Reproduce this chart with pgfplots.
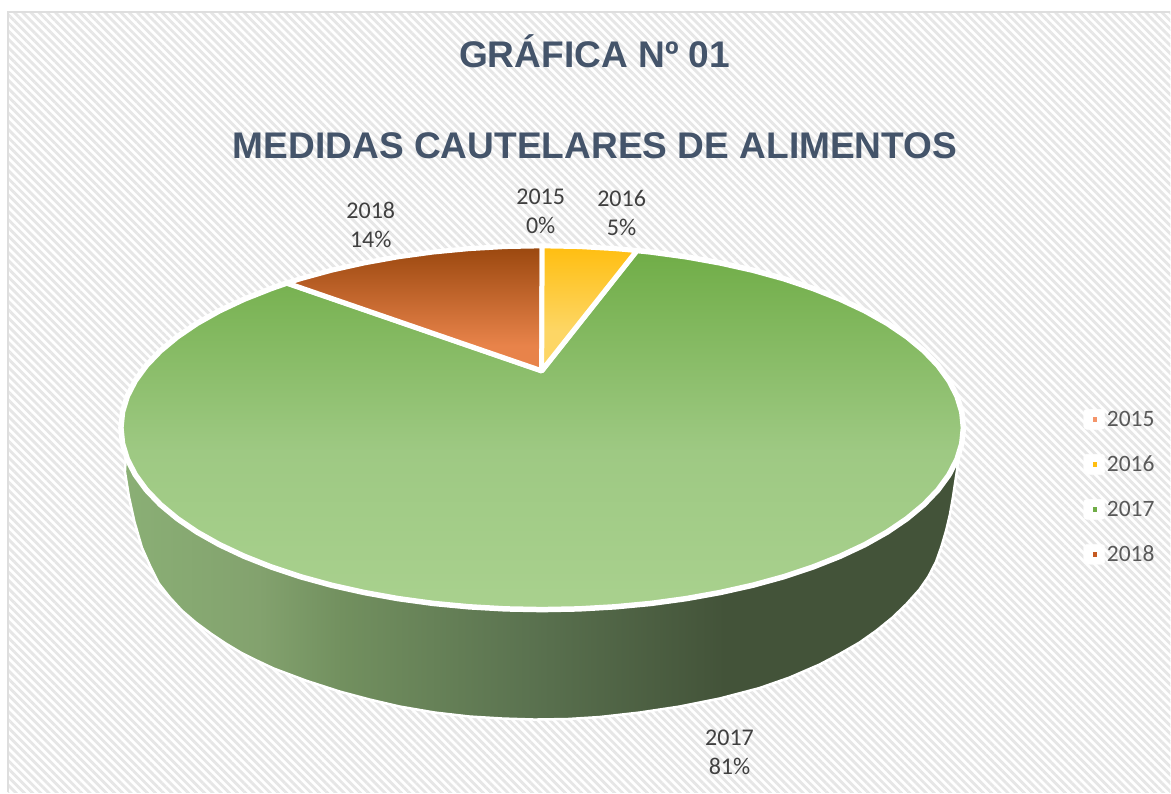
\documentclass[border=0pt]{standalone}
\usepackage{fontspec}
\setmainfont{Liberation Sans}
\newfontfamily\calibri{Carlito}
\usepackage{pgfplots}
\pgfplotsset{compat=1.18}
\usetikzlibrary{patterns.meta}
\definecolor{titleblue}{HTML}{44546A}
\definecolor{labelgrey}{HTML}{404040}
\definecolor{legendgrey}{HTML}{595959}
\definecolor{hatch}{HTML}{E6E6E6}
\definecolor{frameline}{HTML}{DEDEDE}
\definecolor{mark2015}{HTML}{F4956A}
\definecolor{mark2018}{HTML}{C55A22}
\definecolor{green2017top}{HTML}{70AD47}
\definecolor{green2017mid}{HTML}{9EC983}
\definecolor{green2017bot}{HTML}{A9D18E}
\definecolor{orange2018top}{HTML}{9A470E}
\definecolor{orange2018bot}{HTML}{E8834A}
\definecolor{yellow2016top}{HTML}{FFBE10}
\definecolor{yellow2016bot}{HTML}{FDD665}
% side of the pie: light on the left, dark from x=730 on
\definecolor{sideA}{HTML}{8AAF75}
\definecolor{sideB}{HTML}{83A26E}
\definecolor{sideC}{HTML}{72905F}
\definecolor{sideD}{HTML}{5B7350}
\definecolor{sideE}{HTML}{435339}
\pgfdeclarehorizontalshading{pieside}{100bp}{
  color(0bp)=(sideA); color(25bp)=(sideA); color(33bp)=(sideB); color(38bp)=(sideC);
  color(49bp)=(sideD); color(61bp)=(sideE); color(75bp)=(sideE); color(100bp)=(sideE)}
% the box is bottom to top: 25bp is the lowest point of a slice, 75bp the highest
\pgfdeclareverticalshading{slice2017}{100bp}{
  color(0bp)=(green2017bot); color(25bp)=(green2017bot); color(47bp)=(green2017mid);
  color(75bp)=(green2017top); color(100bp)=(green2017top)}
\pgfdeclareverticalshading{slice2018}{100bp}{
  color(0bp)=(orange2018bot); color(35bp)=(orange2018bot);
  color(75bp)=(orange2018top); color(100bp)=(orange2018top)}
\pgfdeclareverticalshading{slice2016}{100bp}{
  color(0bp)=(yellow2016bot); color(41bp)=(yellow2016bot);
  color(75bp)=(yellow2016top); color(100bp)=(yellow2016top)}
\begin{document}
\begin{tikzpicture}
\begin{axis}[
    scale only axis,
    width=1171pt, height=793pt,
    xmin=0, xmax=1171, ymin=0, ymax=793,
    y dir=reverse,
    hide axis,
    clip=false,
    legend style={at={(axis cs:1081,407)}, anchor=north west, draw=none, fill=none,
        font=\calibri\fontsize{23.5}{28}\selectfont\color{legendgrey}, row sep=24pt,
        /tikz/every even column/.style={column sep=1pt}},
    legend cell align=left,
    legend image code/.code={
        \fill[white, rounded corners=3pt] (-1pt,-10pt) rectangle (20pt,10pt);
        \fill[#1, draw=none] (7.8pt,-2.2pt) rectangle (12.2pt,2.2pt);
    },
]
% page and background
\fill[white] (axis cs:0,0) rectangle (axis cs:1171,793);
\path[pattern={Lines[angle=-45, distance=5.8pt, line width=2.8pt]}, pattern color=hatch]
    (axis cs:8,12) rectangle (axis cs:1171,793);
\draw[frameline, line width=1.5pt] (axis cs:1171,12) -- (axis cs:8,12) -- (axis cs:8,793);

\addlegendimage{fill=mark2015}
\addlegendimage{fill=yellow2016top}
\addlegendimage{fill=green2017top}
\addlegendimage{fill=mark2018}

% side wall of the pie
\addplot[shading=pieside, shade, draw=white, line width=2.5pt, line join=round, forget plot] coordinates {
    (126,455) (125,472) (129,497) (134.5,522) (142,548) (150,566) (159,584) (170,598) (182,611) (196,623)
    (211,634) (226,644) (241,653) (257,661) (274,669) (306,681) (340,692) (370,700) (400,707)
    (435,713) (470,717) (503,719) (535,720) (568,719.5) (600,717.5) (640,713) (680,707) (720,699) (760,688.5)
    (790,678) (820,665) (840,654.5) (860,643) (877,631) (893,618) (907,604.5) (920,590) (929,577)
    (936.7,562) (942,547) (946.7,531) (950.5,515) (953.5,498) (958,468) (959,455) (542,430)
} -- cycle;

% 2017
\addplot[shading=slice2017, shade, draw=white, line width=5.5pt, line join=round, forget plot] coordinates {
    (542,371) (637.3,250.7) (651.6,252.2) (686.7,257) (720.6,263.1) (753.3,270.4) (784.3,278.9)
    (813.4,288.6) (840.5,299.3) (865.4,311) (887.8,323.6) (907.5,337) (924.5,351.1) (938.6,365.8)
    (949.6,380.9) (957.6,396.4) (962.4,412.1) (964,428) (962.4,443.9) (957.6,459.6) (949.6,475.1)
    (938.6,490.2) (924.5,504.9) (907.5,519) (887.8,532.4) (865.4,545) (840.5,556.7) (813.4,567.4)
    (784.3,577.1) (753.3,585.6) (720.6,592.9) (686.7,599) (651.6,603.8) (615.7,607.2) (579.2,609.3)
    (542.5,610) (505.8,609.3) (469.3,607.2) (433.4,603.8) (398.3,599) (364.4,592.9) (331.7,585.6)
    (300.7,577.1) (271.6,567.4) (244.5,556.7) (219.6,545) (197.2,532.4) (177.5,519) (160.5,504.9)
    (146.4,490.2) (135.4,475.1) (127.4,459.6) (122.6,443.9) (121,428) (122.6,412.1) (127.4,396.4)
    (135.4,380.9) (146.4,365.8) (160.5,351.1) (177.5,337) (197.2,323.6) (219.6,311) (244.5,299.3)
    (271.6,288.6) (287.1,283.2)
} -- cycle;

% 2018
\addplot[shading=slice2018, shade, draw=white, line width=5pt, line join=round, forget plot] coordinates {
    (542,371) (287.1,283.2) (300.7,278.9) (331.7,270.4) (364.4,263.1) (398.3,257) (433.4,252.2)
    (469.3,248.8) (505.8,246.7) (542.5,246)
} -- cycle;

% 2016
\addplot[shading=slice2016, shade, draw=white, line width=5pt, line join=round, forget plot] coordinates {
    (542,371) (542.5,246) (579.2,246.7) (615.7,248.8) (637.3,250.7)
} -- cycle;

\legend{2015,2016,2017,2018}

% titles
\node[font=\bfseries\fontsize{37.1}{44}\selectfont, text=titleblue] at (axis cs:595,51) {GRÁFICA Nº 01};
\node[font=\bfseries\fontsize{37.1}{44}\selectfont, text=titleblue] at (axis cs:595.5,146) {MEDIDAS CAUTELARES DE ALIMENTOS};

% data labels
\begin{scope}[every node/.style={font=\calibri\fontsize{24}{29}\selectfont, text=labelgrey, align=center}]
\node at (axis cs:541,211.5) {2015\\0\%};
\node at (axis cs:622,213.5) {2016\\5\%};
\node at (axis cs:371,225.5) {2018\\14\%};
\node at (axis cs:730,753) {2017\\81\%};
\end{scope}
\end{axis}
\end{tikzpicture}
\end{document}
